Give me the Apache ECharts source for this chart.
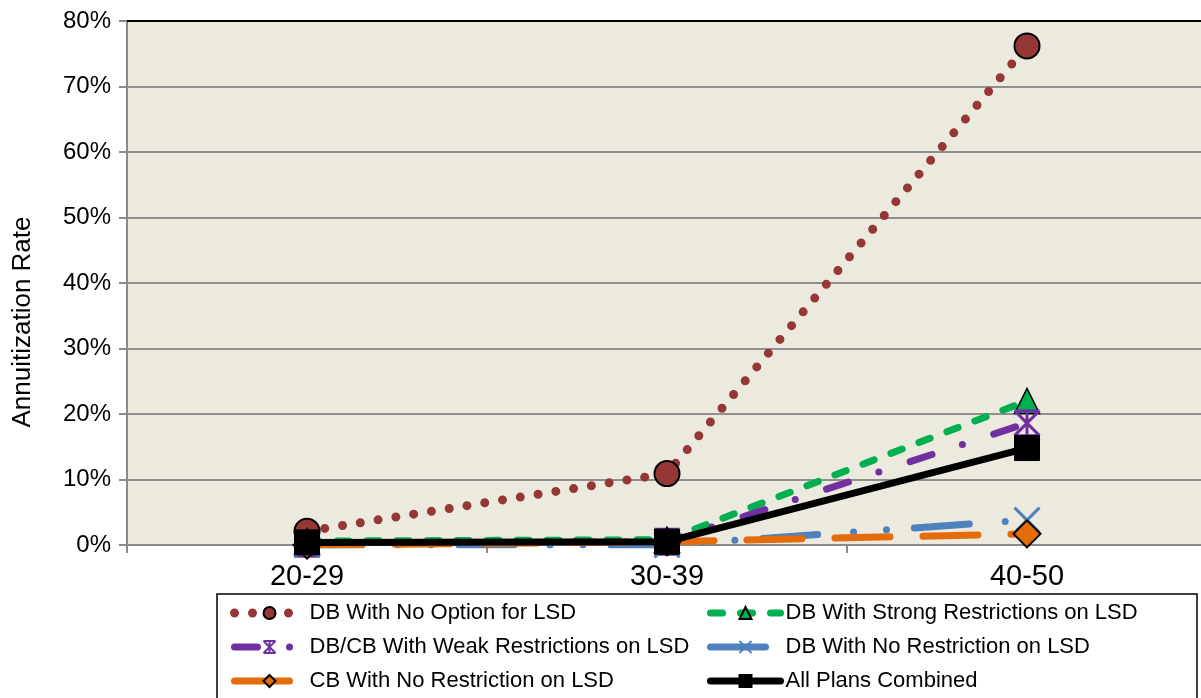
<!DOCTYPE html>
<html>
<head>
<meta charset="utf-8">
<script src="https://cdn.jsdelivr.net/npm/echarts@6/dist/echarts.min.js"></script>
<style>
  html, body { margin: 0; padding: 0; background: #ffffff; overflow: hidden; }
  /* plot area runs slightly past the right edge of the page */
  #chart { width: 1207px; height: 698px; }
</style>
</head>
<body>
<div id="chart"></div>
<script>
// Age groups on the category axis
const ageGroups = ['20-29', '30-39', '40-50'];

// Annuitization rate (%) by plan type
const dbNoOption = [2.1, 10.9, 76.2];
const dbStrong = [0.6, 0.8, 22.0];
const dbcbWeak = [0.2, 0.5, 18.6];
const dbNoRestriction = [0.0, 0.0, 3.8];
const cbNoRestriction = [0.0, 0.5, 1.7];
const allPlans = [0.4, 0.5, 14.8];

// Y-axis ticks
const yMin = 0, yMax = 80, yStep = 10;
const yTitle = 'Annuitization Rate';

const names = {
  noOpt: 'DB With No Option for LSD',
  strong: 'DB With Strong Restrictions on LSD',
  weak: 'DB/CB With Weak Restrictions on LSD',
  dbNo: 'DB With No Restriction on LSD',
  cbNo: 'CB With No Restriction on LSD',
  all: 'All Plans Combined'
};

const FONT = 'Liberation Sans, Arial, sans-serif';

// Excel-like star marker (X with vertical stroke and caps) and plain X marker
const starPath = 'path://M0,0 L20,0 M0,20 L20,20 M0,0 L20,20 M20,0 L0,20 M10,0 L10,20';
const xPath = 'path://M0,0 L20,20 M20,0 L0,20';

const chart = echarts.init(document.getElementById('chart'), null, { renderer: 'canvas' });

const legendCommon = {
  orient: 'vertical',
  top: 597,
  itemWidth: 70, itemHeight: 15, itemGap: 12,
  textStyle: { fontFamily: FONT, fontSize: 22, color: '#000' },
  lineStyle: { width: 'inherit', cap: 'round' }
};

chart.setOption({
  animation: false,
  backgroundColor: '#ffffff',
  grid: {
    left: 127, top: 21, right: 0, bottom: 153,
    show: true, backgroundColor: '#ECE9DF', borderWidth: 0
  },
  xAxis: [{
    type: 'category',
    data: ageGroups,
    boundaryGap: true,
    axisLine: { lineStyle: { color: '#8a8a8a', width: 2 } },
    axisTick: { show: true, length: 8, lineStyle: { color: '#8a8a8a', width: 2 } },
    axisLabel: { fontFamily: FONT, fontSize: 29, color: '#000', margin: 17 },
    splitLine: { show: false }
  }, {
    type: 'category',
    data: ageGroups,
    position: 'top',
    axisLine: { lineStyle: { color: '#000', width: 2 } },
    axisTick: { show: false },
    axisLabel: { show: false }
  }],
  yAxis: {
    type: 'value',
    min: yMin, max: yMax, interval: yStep,
    axisLine: { show: true, lineStyle: { color: '#8a8a8a', width: 2 } },
    axisTick: { show: true, length: 8, lineStyle: { color: '#8a8a8a', width: 2 } },
    axisLabel: { fontFamily: FONT, fontSize: 24, color: '#000', margin: 16, formatter: '{value}%' },
    splitLine: { lineStyle: { color: '#8f8f8f', width: 2 } }
  },
  legend: [
    Object.assign({ left: 225, data: [names.noOpt, names.weak, names.cbNo] }, legendCommon),
    Object.assign({ left: 702, data: [names.strong, names.dbNo, names.all] }, legendCommon)
  ],
  graphic: [{
    type: 'rect',
    z: -1,
    shape: { x: 217, y: 594, width: 980, height: 130 },
    style: { fill: '#ffffff', stroke: '#000', lineWidth: 1.5 }
  }, {
    type: 'text',
    x: 23, y: 322,
    rotation: Math.PI / 2,
    style: {
      text: yTitle, fontFamily: FONT, fontSize: 26, fill: '#000',
      align: 'center', verticalAlign: 'middle'
    }
  }],
  series: [{
    name: names.noOpt,
    type: 'line',
    data: dbNoOption,
    symbol: 'circle', symbolSize: 25,
    itemStyle: { color: '#953735', borderColor: '#000', borderWidth: 2 },
    lineStyle: { color: '#953735', width: 9, type: [0, 18], cap: 'round' },
    z: 2
  }, {
    name: names.strong,
    type: 'line',
    data: dbStrong,
    symbol: 'triangle', symbolSize: 25,
    itemStyle: { color: '#00B050', borderColor: '#000', borderWidth: 1.5 },
    lineStyle: { color: '#00B050', width: 7, type: [12, 18], cap: 'round' },
    z: 3
  }, {
    name: names.weak,
    type: 'line',
    data: dbcbWeak,
    symbol: starPath, symbolSize: 25,
    itemStyle: { color: '#7030A0', borderColor: '#7030A0', borderWidth: 3 },
    lineStyle: { color: '#7030A0', width: 7, type: [23, 32, 0, 33], cap: 'round' },
    z: 4
  }, {
    name: names.dbNo,
    type: 'line',
    data: dbNoRestriction,
    symbol: xPath, symbolSize: 25,
    itemStyle: { color: '#4F81BD', borderColor: '#4F81BD', borderWidth: 3 },
    lineStyle: { color: '#4F81BD', width: 7, type: [55, 36, 0, 33, 0, 28], cap: 'round' },
    z: 5
  }, {
    name: names.cbNo,
    type: 'line',
    data: cbNoRestriction,
    symbol: 'diamond', symbolSize: 27,
    itemStyle: { color: '#E46C0A', borderColor: '#000', borderWidth: 2 },
    lineStyle: { color: '#E46C0A', width: 7, type: [55, 33], cap: 'round' },
    z: 6
  }, {
    name: names.all,
    type: 'line',
    data: allPlans,
    symbol: 'rect', symbolSize: 25,
    itemStyle: { color: '#000', borderColor: '#000', borderWidth: 1 },
    lineStyle: { color: '#000', width: 7 },
    z: 7
  }]
});
</script>
</body>
</html>
